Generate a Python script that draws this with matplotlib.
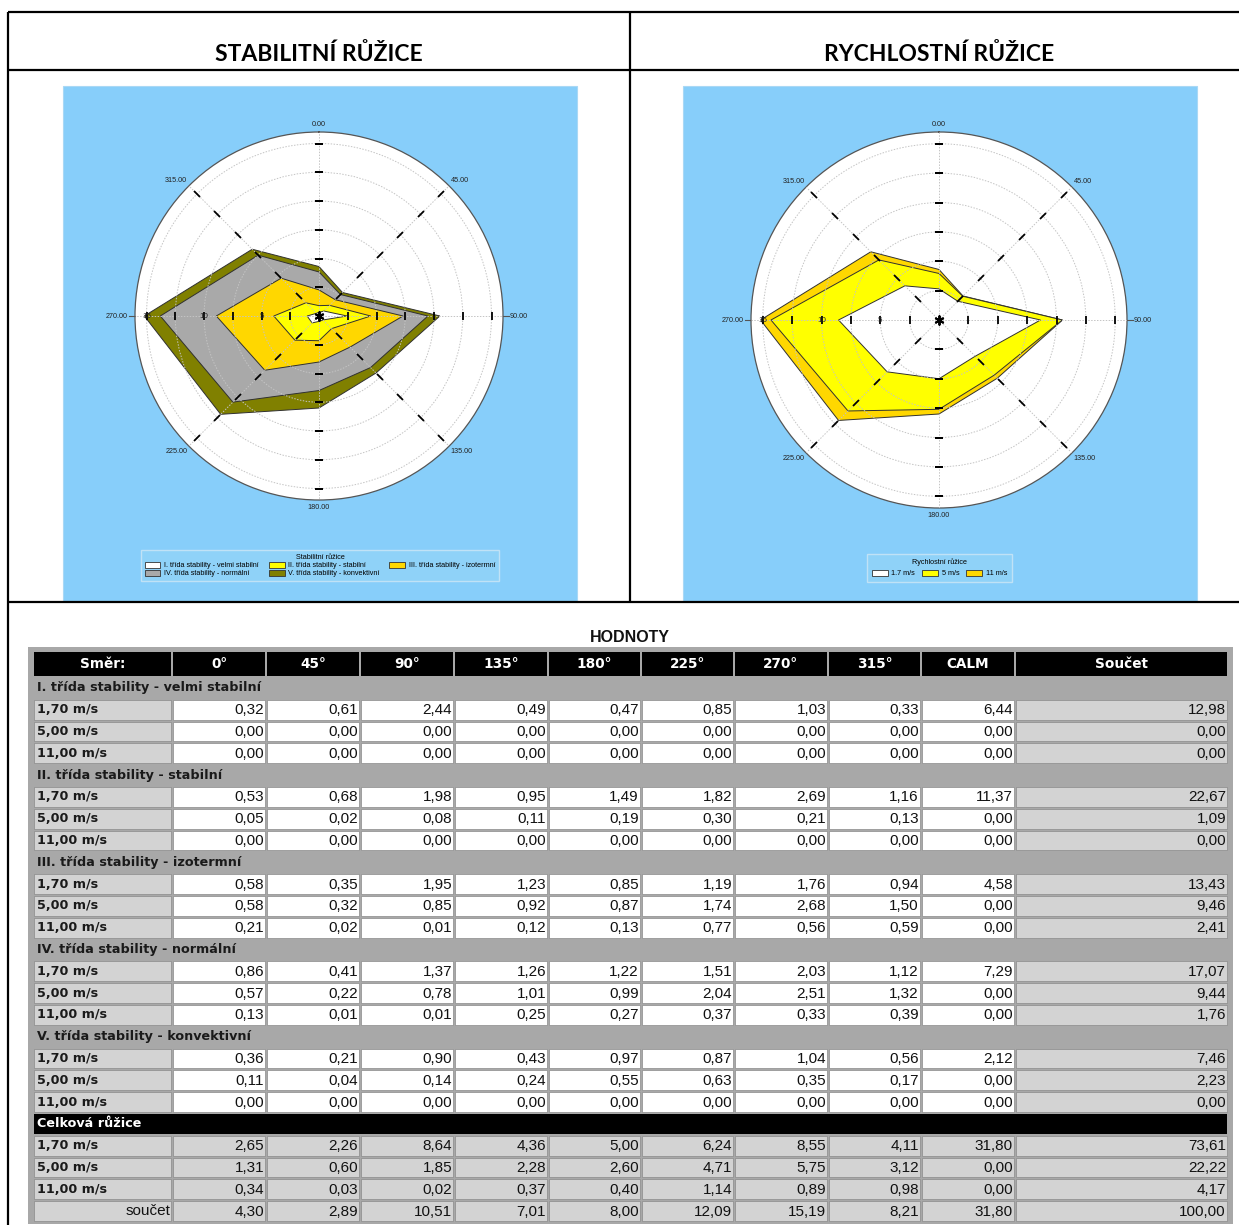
import numpy as np
import matplotlib
matplotlib.use("Agg")
import matplotlib.pyplot as plt
from matplotlib.patches import Rectangle, Patch
from matplotlib.markers import MarkerStyle
from matplotlib.transforms import Affine2D

# ---------------- data ----------------
directions = [0, 45, 90, 135, 180, 225, 270, 315]
header_labels = ["Směr:", "0°", "45°", "90°", "135°", "180°", "225°", "270°", "315°", "CALM", "Součet"]
speed_labels = ["1,70 m/s", "5,00 m/s", "11,00 m/s"]

class_names = ["I. třída stability - velmi stabilní",
               "II. třída stability - stabilní",
               "III. třída stability - izotermní",
               "IV. třída stability - normální",
               "V. třída stability - konvektivní"]

class_I = [[0.32, 0.61, 2.44, 0.49, 0.47, 0.85, 1.03, 0.33],
           [0.00, 0.00, 0.00, 0.00, 0.00, 0.00, 0.00, 0.00],
           [0.00, 0.00, 0.00, 0.00, 0.00, 0.00, 0.00, 0.00]]
class_I_calm = [6.44, 0.00, 0.00]
class_I_sum = [12.98, 0.00, 0.00]

class_II = [[0.53, 0.68, 1.98, 0.95, 1.49, 1.82, 2.69, 1.16],
            [0.05, 0.02, 0.08, 0.11, 0.19, 0.30, 0.21, 0.13],
            [0.00, 0.00, 0.00, 0.00, 0.00, 0.00, 0.00, 0.00]]
class_II_calm = [11.37, 0.00, 0.00]
class_II_sum = [22.67, 1.09, 0.00]

class_III = [[0.58, 0.35, 1.95, 1.23, 0.85, 1.19, 1.76, 0.94],
             [0.58, 0.32, 0.85, 0.92, 0.87, 1.74, 2.68, 1.50],
             [0.21, 0.02, 0.01, 0.12, 0.13, 0.77, 0.56, 0.59]]
class_III_calm = [4.58, 0.00, 0.00]
class_III_sum = [13.43, 9.46, 2.41]

class_IV = [[0.86, 0.41, 1.37, 1.26, 1.22, 1.51, 2.03, 1.12],
            [0.57, 0.22, 0.78, 1.01, 0.99, 2.04, 2.51, 1.32],
            [0.13, 0.01, 0.01, 0.25, 0.27, 0.37, 0.33, 0.39]]
class_IV_calm = [7.29, 0.00, 0.00]
class_IV_sum = [17.07, 9.44, 1.76]

class_V = [[0.36, 0.21, 0.90, 0.43, 0.97, 0.87, 1.04, 0.56],
           [0.11, 0.04, 0.14, 0.24, 0.55, 0.63, 0.35, 0.17],
           [0.00, 0.00, 0.00, 0.00, 0.00, 0.00, 0.00, 0.00]]
class_V_calm = [2.12, 0.00, 0.00]
class_V_sum = [7.46, 2.23, 0.00]

total = [[2.65, 2.26, 8.64, 4.36, 5.00, 6.24, 8.55, 4.11],
         [1.31, 0.60, 1.85, 2.28, 2.60, 4.71, 5.75, 3.12],
         [0.34, 0.03, 0.02, 0.37, 0.40, 1.14, 0.89, 0.98]]
total_calm = [31.80, 0.00, 0.00]
total_sum = [73.61, 22.22, 4.17]
soucet = [4.30, 2.89, 10.51, 7.01, 8.00, 12.09, 15.19, 8.21]
soucet_calm = 31.80
soucet_sum = 100.00

class_colors = ["#ffffff", "#ffff00", "#ffd700", "#a9a9a9", "#808000"]
speed_legend = ["1.7 m/s", "5 m/s", "11 m/s"]
speed_colors = ["#ffffff", "#ffff00", "#ffd700"]

# ---------------- figure ----------------
W, H = 1239, 1225
DPI = 100
plt.rcParams["font.family"] = ["Liberation Sans", "DejaVu Sans"]
fig = plt.figure(figsize=(W / DPI, H / DPI), dpi=DPI)
fig.patch.set_facecolor("white")

bg = fig.add_axes([0, 0, 1, 1])
bg.set_xlim(0, W)
bg.set_ylim(H, 0)
bg.axis("off")

# document frame lines
lk = dict(color="black", lw=1.6, solid_capstyle="butt")
bg.plot([8, W], [12, 12], **lk)
bg.plot([8, W], [70, 70], **lk)
bg.plot([8, W], [602, 602], **lk)
bg.plot([630, 630], [12, 602], **lk)
bg.plot([8, 8], [12, H], **lk)

bg.text(319, 54, "STABILITNÍ RŮŽICE", ha="center", va="center",
        fontsize=16.5, fontweight="bold", family="Lato")
bg.text(939, 54, "RYCHLOSTNÍ RŮŽICE", ha="center", va="center",
        fontsize=16.5, fontweight="bold", family="Lato")

# blue panels
for x0 in (63, 683):
    bg.add_patch(Rectangle((x0, 86), 514, 515, fc="#87cefa", ec="#a9d8f5", lw=0.8))


def polar_axes(cx, cy, r):
    ax = fig.add_axes([(cx - r) / W, 1 - (cy + r) / H, 2 * r / W, 2 * r / H],
                      projection="polar")
    ax.set_theta_zero_location("N")
    ax.set_theta_direction(-1)
    ax.set_ylim(0, 16)
    ax.set_facecolor("white")
    ax.set_rgrids(np.arange(2.5, 15.1, 2.5), labels=[""] * 6)
    ax.set_thetagrids(directions, labels=[""] * 8)
    ax.grid(True, color="#c4c4c4", ls=(0, (1.5, 1.5)), lw=0.7)
    ax.set_axisbelow(False)
    ax.spines["polar"].set_edgecolor("#555555")
    ax.spines["polar"].set_linewidth(0.9)
    # radial dash ticks
    rs = np.arange(2.5, 15.1, 2.5)
    rot = {0: 0, 180: 0, 90: 90, 270: 90, 45: 45, 225: 45, 135: -45, 315: -45}
    for d in directions:
        m = MarkerStyle("_", transform=Affine2D().rotate_deg(rot[d]))
        ax.plot(np.full(len(rs), np.deg2rad(d)), rs, ls="none", marker=m,
                ms=6.3, mew=1.3, color="black", zorder=4)
    # angle labels
    pos = {0: ("center", "bottom", 16.35), 45: ("left", "bottom", 16.2),
           90: ("left", "center", 16.6), 135: ("left", "top", 16.2),
           180: ("center", "top", 16.35), 225: ("right", "top", 16.2),
           270: ("right", "center", 16.6), 315: ("right", "bottom", 16.2)}
    for d in directions:
        ha, va, rr = pos[d]
        ax.text(np.deg2rad(d), rr, f"{d:.2f}", ha=ha, va=va, fontsize=5.2,
                color="#222222", clip_on=False)
    for d in (90, 270):
        ax.plot([np.deg2rad(d)] * 2, [16, 16.5], color="#555555", lw=0.8, clip_on=False)
    for v in (5, 10, 15):
        ax.text(np.deg2rad(270), v, str(v), ha="center", va="center", fontsize=5.8,
                color="#222222", zorder=5)
    ax.plot([0], [0], marker=(6, 2, 0), ms=7, mew=1.4, color="black", zorder=6)
    return ax


theta = np.deg2rad(directions + [directions[0]])

# ---- stability rose ----
ax1 = polar_axes(319, 316, 184)
classes = [class_I, class_II, class_III, class_IV, class_V]
class_tot = [np.sum(np.array(c), axis=0) for c in classes]
cum = np.cumsum(np.array(class_tot), axis=0)
for k in range(len(classes) - 1, -1, -1):
    r = list(cum[k]) + [cum[k][0]]
    ax1.fill(theta, r, facecolor=class_colors[k], edgecolor="#303030", lw=0.7, zorder=1)

handles = [Patch(fc=c, ec="#333333", lw=0.6) for c in class_colors]
order = [0, 3, 1, 4, 2]
leg1 = ax1.legend([handles[i] for i in order], [class_names[i] for i in order],
                  ncol=3, loc="center", mode="expand",
                  bbox_to_anchor=(137 / W, 1 - 585 / H, 366 / W, 39 / H),
                  bbox_transform=fig.transFigure, title="Stabilitní růžice",
                  fontsize=5.2, title_fontsize=5.2, fancybox=False,
                  facecolor="#8fd2f8", edgecolor="#c0e2f6", framealpha=1,
                  handlelength=2.2, handleheight=0.9, borderpad=0.55,
                  labelspacing=0.1, columnspacing=0.8, handletextpad=0.5)
leg1.get_frame().set_linewidth(1.0)

# ---- speed rose ----
ax2 = polar_axes(939, 320, 188)
cum2 = np.cumsum(np.array(total), axis=0)
for k in range(len(total) - 1, -1, -1):
    r = list(cum2[k]) + [cum2[k][0]]
    ax2.fill(theta, r, facecolor=speed_colors[k], edgecolor="#303030", lw=0.7, zorder=1)
handles2 = [Patch(fc=c, ec="#333333", lw=0.6) for c in speed_colors]
leg2 = ax2.legend(handles2, speed_legend, ncol=3, loc="center", mode="expand",
                  bbox_to_anchor=(863 / W, 1 - 582 / H, 153 / W, 28 / H),
                  bbox_transform=fig.transFigure, title="Rychlostní růžice",
                  fontsize=5.2, title_fontsize=5.2, fancybox=False,
                  facecolor="#8fd2f8", edgecolor="#c0e2f6", framealpha=1,
                  handlelength=2.2, handleheight=0.9, borderpad=0.7,
                  columnspacing=0.8, handletextpad=0.5)
leg2.get_frame().set_linewidth(1.0)

# ---------------- table ----------------
bg.text(630, 638, "HODNOTY", ha="center", va="center", fontsize=11.5,
        fontweight="bold", color="#111111")

col_edges = [33, 172, 266, 360, 454, 548, 641, 734, 828, 921, 1015, 1228]
row_top0, row_h = 677, 21.8
frame_c = "#a8a8a8"
gray_c = "#d3d3d3"
bg.add_patch(Rectangle((28, 647), 1205, 1224 - 647, fc=frame_c, ec="none"))

for i, lab in enumerate(header_labels):
    x0, x1 = col_edges[i], col_edges[i + 1]
    bg.add_patch(Rectangle((x0 + 1, 652), x1 - x0 - 2, 24, fc="black", ec="none"))
    bg.text((x0 + x1) / 2, 664.5, lab, ha="center", va="center", color="white",
            fontsize=9.8, fontweight="bold", family="DejaVu Sans")


def fmt(v):
    return f"{v:.2f}".replace(".", ",")


def group_row(i, text, black=False):
    y0 = row_top0 + i * row_h
    if black:
        bg.add_patch(Rectangle((col_edges[0] + 1, y0 + 1), col_edges[-1] - col_edges[0] - 2,
                               row_h - 2, fc="black", ec="none"))
    bg.text(col_edges[0] + 4, y0 + row_h / 2, text, ha="left", va="center",
            fontsize=9.2, fontweight="bold", family="DejaVu Sans",
            color="white" if black else "#1a1a1a")


def data_row(i, label, values, calm, ssum, cell_fc="white", label_right=False):
    y0 = row_top0 + i * row_h
    yc = y0 + row_h / 2
    cells = list(values) + [calm, ssum]
    for j in range(len(col_edges) - 1):
        x0, x1 = col_edges[j], col_edges[j + 1]
        if j == 0 or j == len(col_edges) - 2:
            fc = gray_c
        else:
            fc = cell_fc
        bg.add_patch(Rectangle((x0 + 1, y0 + 1), x1 - x0 - 2, row_h - 2, fc=fc,
                               ec="#8a8a8a", lw=0.5))
        if j == 0:
            if label_right:
                bg.text(x1 - 2, yc, label, ha="right", va="center", fontsize=11,
                        color="#111111")
            else:
                bg.text(x0 + 4, yc, label, ha="left", va="center", fontsize=9.2,
                        fontweight="bold", family="DejaVu Sans", color="#1a1a1a")
        else:
            bg.text(x1 - 2, yc + 0.5, fmt(cells[j - 1]), ha="right", va="center",
                    fontsize=11, color="#111111")


groups = [(class_I, class_I_calm, class_I_sum),
          (class_II, class_II_calm, class_II_sum),
          (class_III, class_III_calm, class_III_sum),
          (class_IV, class_IV_calm, class_IV_sum),
          (class_V, class_V_calm, class_V_sum)]
row = 0
for g, (vals, calm, ssum) in enumerate(groups):
    group_row(row, class_names[g])
    row += 1
    for s in range(3):
        data_row(row, speed_labels[s], vals[s], calm[s], ssum[s])
        row += 1

group_row(row, "Celková růžice", black=True)
row += 1
for s in range(3):
    data_row(row, speed_labels[s], total[s], total_calm[s], total_sum[s], cell_fc=gray_c)
    row += 1
data_row(row, "součet", soucet, soucet_calm, soucet_sum, cell_fc=gray_c, label_right=True)

fig.savefig("out.png", dpi=DPI)
